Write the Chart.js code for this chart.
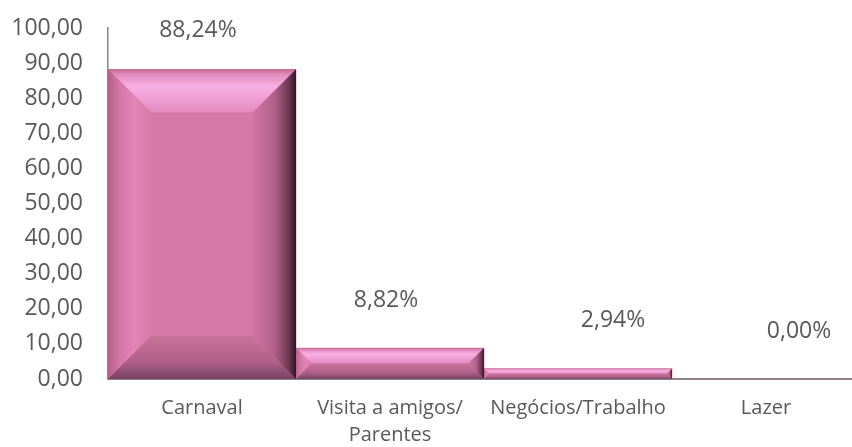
<!DOCTYPE html>
<html>
<head>
<meta charset="utf-8">
<script src="https://cdn.jsdelivr.net/npm/chart.js@4/dist/chart.umd.min.js"></script>
<style>
    body { margin: 0; background: #fff; overflow: hidden; }
    #wrap { position: relative; width: 860px; height: 447px; }
</style>
</head>
<body>
<div id="wrap"><canvas id="chart"></canvas></div>
<script>
const categories = ['Carnaval', ['Visita a amigos/', 'Parentes'], 'Negócios/Trabalho', 'Lazer'];
const percentages = [88.24, 8.82, 2.94, 0.00];
const yTicks = [0, 10, 20, 30, 40, 50, 60, 70, 80, 90, 100];

const textColor = '#595959';
const axisColor = '#868686';

const fmt = v => v.toFixed(2).replace('.', ',');

// Excel-like bevel drawn over each bar element
const bevelPlugin = {
    id: 'bevel',
    afterDatasetsDraw(chart) {
        const ctx = chart.ctx;
        chart.getDatasetMeta(0).data.forEach(bar => {
            const x0 = bar.x - bar.width / 2;
            const x1 = bar.x + bar.width / 2;
            const y0 = bar.y;
            const y1 = bar.base;
            const h = y1 - y0;
            if (h < 1) return;
            const b = Math.min(43, h / 2, (x1 - x0) / 2);

            const poly = (pts, fill) => {
                ctx.beginPath();
                ctx.moveTo(pts[0][0], pts[0][1]);
                pts.slice(1).forEach(p => ctx.lineTo(p[0], p[1]));
                ctx.closePath();
                ctx.fillStyle = fill;
                ctx.fill();
            };

            ctx.save();
            // top
            let g = ctx.createLinearGradient(0, y0, 0, y0 + b);
            g.addColorStop(0, '#c2678f');
            g.addColorStop(0.12, '#e08cbc');
            g.addColorStop(0.4, '#f9b0e4');
            g.addColorStop(1, '#e28ac0');
            poly([[x0, y0], [x1, y0], [x1 - b, y0 + b], [x0 + b, y0 + b]], g);
            // left
            g = ctx.createLinearGradient(x0, 0, x0 + b, 0);
            g.addColorStop(0, '#b46088');
            g.addColorStop(0.25, '#d375a5');
            g.addColorStop(0.6, '#e284b5');
            g.addColorStop(1, '#d77aa9');
            poly([[x0, y0], [x0 + b, y0 + b], [x0 + b, y1 - b], [x0, y1]], g);
            // bottom
            g = ctx.createLinearGradient(0, y1 - b, 0, y1);
            g.addColorStop(0, '#c8739b');
            g.addColorStop(0.6, '#b06088');
            g.addColorStop(1, '#774263');
            poly([[x0, y1], [x0 + b, y1 - b], [x1 - b, y1 - b], [x1, y1]], g);
            // right
            g = ctx.createLinearGradient(x1 - b, 0, x1, 0);
            g.addColorStop(0, '#d274a4');
            g.addColorStop(0.5, '#b0628a');
            g.addColorStop(0.85, '#6a3450');
            g.addColorStop(1, '#2e1622');
            poly([[x1, y0], [x1, y1], [x1 - b, y1 - b], [x1 - b, y0 + b]], g);
            ctx.restore();
        });
    }
};

const valueLabelPlugin = {
    id: 'valueLabels',
    afterDraw(chart, args, opts) {
        const ctx = chart.ctx;
        ctx.save();
        ctx.font = '23px "Open Sans"';
        ctx.fillStyle = textColor;
        ctx.textAlign = 'center';
        ctx.textBaseline = 'middle';
        chart.getDatasetMeta(0).data.forEach((bar, i) => {
            const y = Math.max(bar.y - opts.offset, chart.chartArea.top + 2);
            ctx.fillText(fmt(percentages[i]) + '%', bar.x + opts.shift[i], y);
        });
        ctx.restore();
    }
};

new Chart(document.getElementById('chart'), {
    type: 'bar',
    data: {
        labels: categories,
        datasets: [{
            data: percentages,
            backgroundColor: '#d779a8',
            borderWidth: 0,
            categoryPercentage: 1.0,
            barPercentage: 1.0
        }]
    },
    options: {
        responsive: true,
        maintainAspectRatio: false,
        animation: false,
        layout: { padding: { top: 28, left: 0, right: 0, bottom: 0 } },
        plugins: {
            legend: { display: false },
            tooltip: { enabled: false },
            valueLabels: { offset: 48, shift: [-4, -4, 35, 33] }
        },
        scales: {
            x: {
                grid: { display: false, drawTicks: false },
                border: { display: true, color: axisColor, width: 2 },
                ticks: {
                    color: textColor,
                    font: { family: 'Open Sans', size: 20, lineHeight: 1.35 },
                    padding: 16,
                    maxRotation: 0,
                    autoSkip: false
                },
                afterFit: s => { s.height = 68; }
            },
            y: {
                min: 0,
                max: 100,
                afterBuildTicks: s => { s.ticks = yTicks.map(v => ({ value: v })); },
                grid: { display: false, drawTicks: false },
                border: { display: true, color: axisColor, width: 1.5 },
                ticks: {
                    color: textColor,
                    font: { family: 'Open Sans', size: 23 },
                    padding: 25,
                    callback: v => fmt(v)
                },
                afterFit: s => { s.width = 108; s.paddingTop = 0; s.paddingBottom = 0; }
            }
        }
    },
    plugins: [bevelPlugin, valueLabelPlugin]
});
</script>
</body>
</html>
